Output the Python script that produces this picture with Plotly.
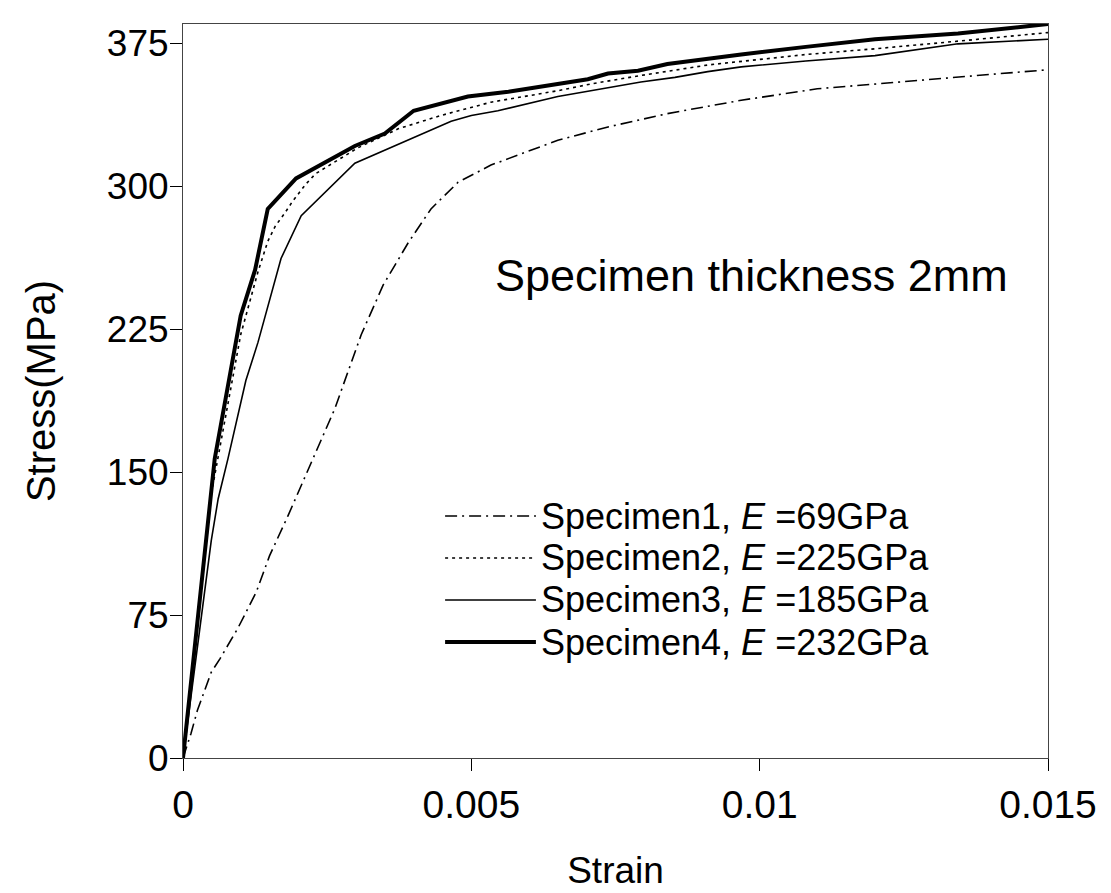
import plotly.graph_objects as go

# ---- data ----
strain_s1 = [0, 0.00014, 0.00025, 0.00049, 0.00064, 0.00081, 0.00095, 0.00127, 0.0015, 0.00182,
             0.00229, 0.00263, 0.00309, 0.00347, 0.0039, 0.0043, 0.00477, 0.00534, 0.0065, 0.00737,
             0.0084, 0.00968, 0.011, 0.01257, 0.01327, 0.01418, 0.015]
stress_s1 = [0, 13, 25, 45, 52, 61, 68, 87, 106, 127,
             159, 183, 222, 248, 270, 288, 302, 311, 324, 331,
             338, 345, 351, 355, 357, 359, 361]

strain_s2 = [0, 0.0005, 0.001, 0.0013, 0.00147, 0.0016, 0.00177, 0.0019, 0.00213, 0.0023,
             0.00303, 0.00373, 0.00447, 0.00534, 0.0065, 0.00708, 0.00794, 0.0091, 0.0108,
             0.012, 0.01344, 0.015]
stress_s2 = [0, 140, 222, 255, 271, 279, 286, 292, 301, 306.5,
             320, 330, 337, 344, 350, 353.6, 358, 363.5, 369,
             372, 376, 380.5]

strain_s3 = [0, 0.00049, 0.00061, 0.00078, 0.00109, 0.0013, 0.0017, 0.00205, 0.00298, 0.00465,
             0.005, 0.00546, 0.0065, 0.00794, 0.00853, 0.0091, 0.00968, 0.0108, 0.012, 0.01344, 0.015]
stress_s3 = [0, 114, 136, 157, 198, 218, 262, 284.5, 312, 334,
             337, 339.5, 347, 354.6, 357, 360, 362.5, 365.6, 368.4, 374.6, 377]

strain_s4 = [0, 0.00055, 0.001, 0.00125, 0.00147, 0.00196, 0.00298, 0.0035, 0.004, 0.00494,
             0.00564, 0.0065, 0.00702, 0.00737, 0.00789, 0.0084, 0.0091, 0.00968, 0.0108,
             0.012, 0.01344, 0.015]
stress_s4 = [0, 157, 232, 256, 288, 304, 321, 327.5, 339.5, 347,
             349.5, 353.7, 356, 359, 360.5, 364, 367, 369, 373,
             377, 380, 385]

series_labels = ["Specimen1, <i>E</i> =69GPa", "Specimen2, <i>E</i> =225GPa",
                 "Specimen3, <i>E</i> =185GPa", "Specimen4, <i>E</i> =232GPa"]
x_tickvals = [0, 0.005, 0.01, 0.015]
x_ticktext = ["0", "0.005", "0.01", "0.015"]
y_tickvals = [0, 75, 150, 225, 300, 375]

# ---- styles ----
styles = [
    dict(color="black", width=1.6, dash="12px,5px,2px,5px"),
    dict(color="black", width=1.6, dash="3px,4px"),
    dict(color="black", width=1.6, dash="solid"),
    dict(color="black", width=4, dash="solid"),
]
data = [(strain_s1, stress_s1), (strain_s2, stress_s2), (strain_s3, stress_s3), (strain_s4, stress_s4)]

FONT = "Liberation Sans, Arial, sans-serif"

fig = go.Figure()
for (xs, ys), st, lab in zip(data, styles, series_labels):
    fig.add_trace(go.Scatter(x=xs, y=ys, mode="lines", line=st, name=lab, showlegend=False))

# custom legend (samples + text) in paper coordinates
leg_rows = [0.3297, 0.2725, 0.2153, 0.158]
shapes = []
annotations = []
for lab, st, yy in zip(series_labels, styles, leg_rows):
    shapes.append(dict(type="line", xref="paper", yref="paper", x0=0.303, x1=0.408, y0=yy, y1=yy,
                       line=dict(color="black", width=st["width"], dash=st["dash"])))
    annotations.append(dict(xref="paper", yref="paper", x=0.411, y=yy, xanchor="left", yanchor="middle",
                            text=lab, showarrow=False, font=dict(family=FONT, size=36, color="black")))

annotations.append(dict(xref="paper", yref="paper", x=0.657, y=0.657, xanchor="center", yanchor="middle",
                        text="Specimen thickness 2mm", showarrow=False,
                        font=dict(family=FONT, size=45, color="black")))

fig.update_layout(
    width=1111, height=893,
    margin=dict(l=175, r=71, t=16, b=143),
    paper_bgcolor="white", plot_bgcolor="white",
    font=dict(family=FONT, color="black"),
    shapes=shapes, annotations=annotations,
    showlegend=False,
)
fig.update_xaxes(range=[0, 0.015], tickvals=x_tickvals, ticktext=x_ticktext,
                 ticks="outside", ticklen=12, tickwidth=1, tickcolor="black",
                 showline=True, linecolor="#444", linewidth=1, mirror=True,
                 showgrid=False, zeroline=False,
                 tickfont=dict(family=FONT, size=39),
                 title=dict(text="Strain", font=dict(family=FONT, size=37), standoff=32))
fig.update_yaxes(range=[0, 385], tickvals=y_tickvals,
                 ticks="outside", ticklen=12, tickwidth=1, tickcolor="black",
                 showline=True, linecolor="#444", linewidth=1, mirror=True,
                 showgrid=False, zeroline=False, ticklabelstandoff=-6,
                 tickfont=dict(family=FONT, size=37),
                 title=dict(text="Stress(MPa)", font=dict(family=FONT, size=40), standoff=38))

fig.write_html("out.html")
